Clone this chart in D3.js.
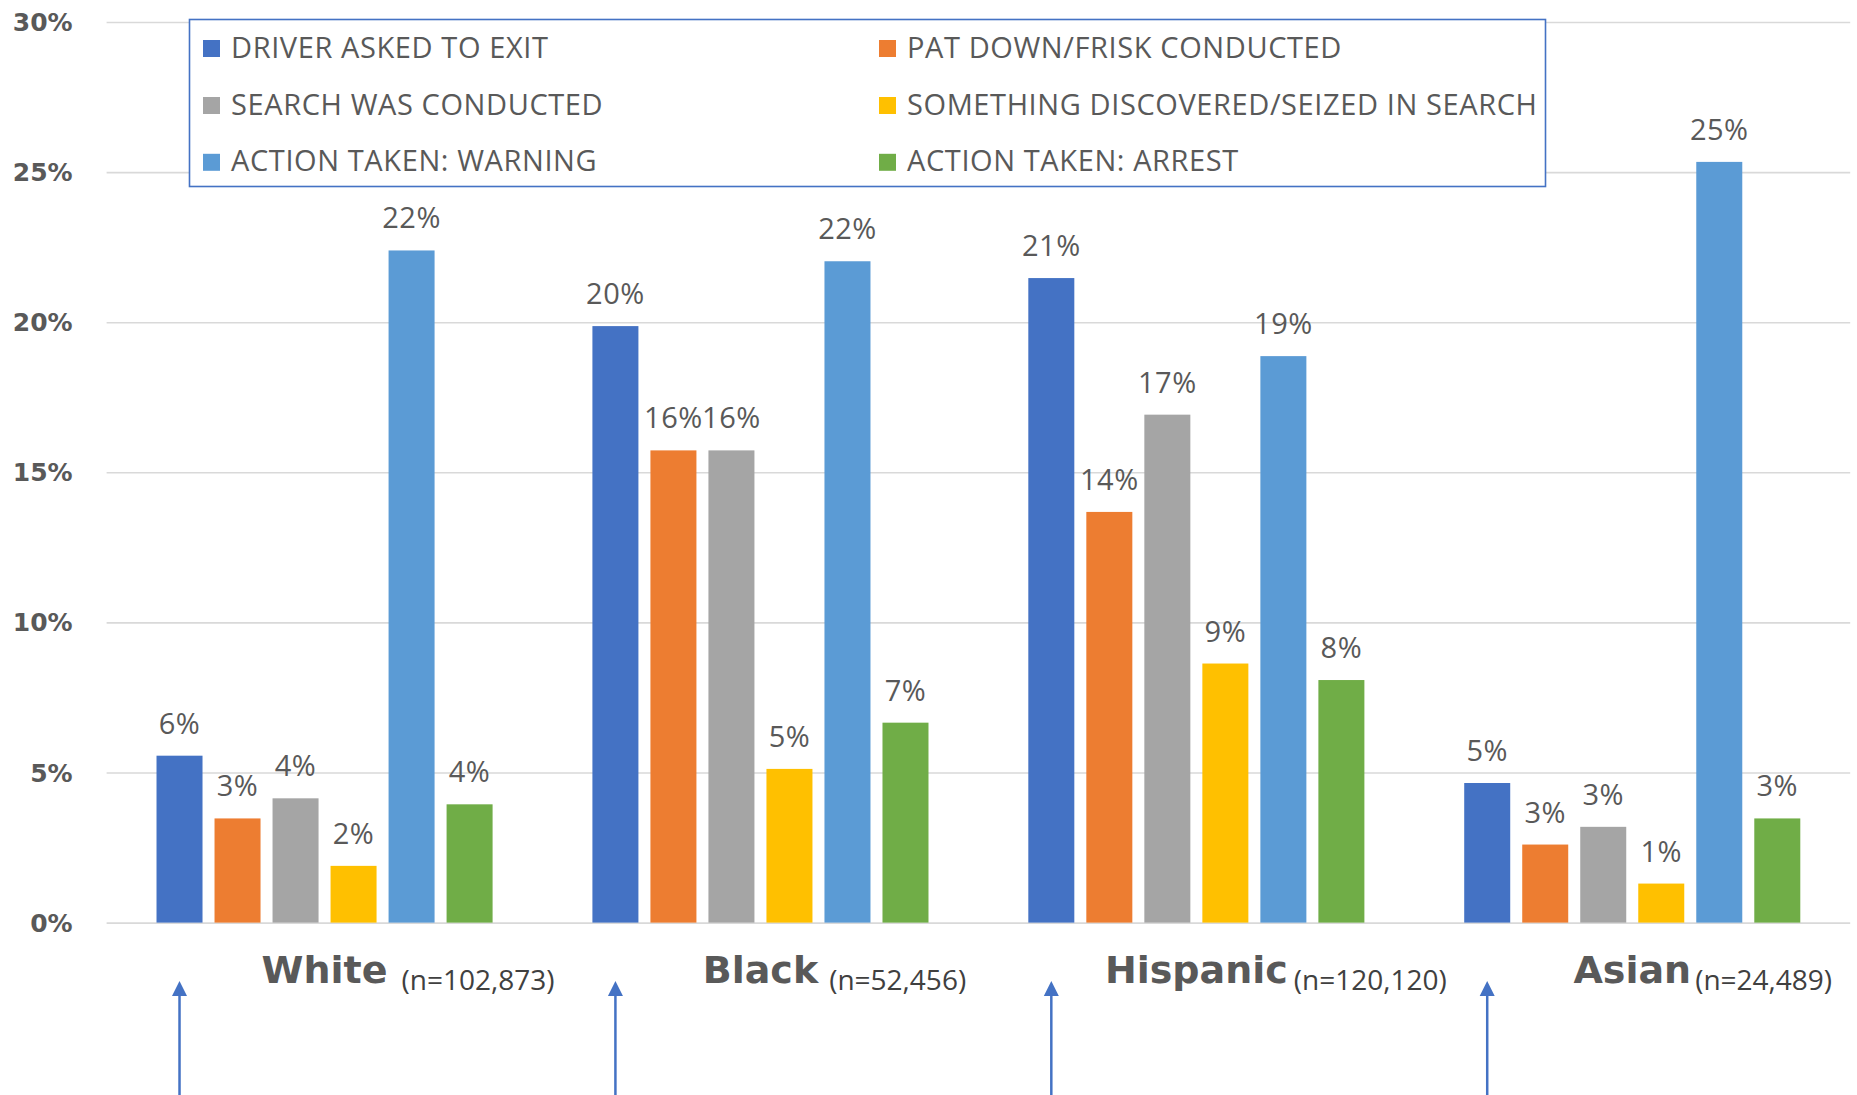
<!DOCTYPE html>
<html>
<head>
<meta charset="utf-8">
<script src="https://cdn.jsdelivr.net/npm/d3@7"></script>
<style>
  body { margin: 0; background: #ffffff; }
  svg { display: block; }
</style>
</head>
<body>
<svg id="chart" width="1857" height="1095"></svg>
<script>
// Groups along the x axis and their sample sizes
const categories = ["White", "Black", "Hispanic", "Asian"];
const sampleSizes = ["(n=102,873)", "(n=52,456)", "(n=120,120)", "(n=24,489)"];

// Series (one bar per series in each group)
const seriesNames = [
  "DRIVER ASKED TO EXIT",
  "PAT DOWN/FRISK CONDUCTED",
  "SEARCH WAS CONDUCTED",
  "SOMETHING DISCOVERED/SEIZED IN SEARCH",
  "ACTION TAKEN: WARNING",
  "ACTION TAKEN: ARREST"
];
const seriesColors = ["#4472C4", "#ED7D31", "#A5A5A5", "#FFC000", "#5B9BD5", "#70AD47"];

// Share of stops, per group (White, Black, Hispanic, Asian)
const driverAskedToExit = [0.0556, 0.1987, 0.2147, 0.0465];
const patDownFrisk      = [0.0347, 0.1573, 0.1368, 0.0260];
const searchConducted   = [0.0414, 0.1573, 0.1692, 0.0319];
const somethingSeized   = [0.0189, 0.0512, 0.0863, 0.0130];
const warningGiven      = [0.2239, 0.2203, 0.1887, 0.2534];
const arrestMade        = [0.0394, 0.0666, 0.0808, 0.0347];

const yTicks = [0, 0.05, 0.10, 0.15, 0.20, 0.25, 0.30];

const seriesValues = [driverAskedToExit, patDownFrisk, searchConducted,
                      somethingSeized, warningGiven, arrestMade];

// ---- layout ----
const W = 1857, H = 1095;
const plotLeft = 106.6, plotRight = 1850.2;
const plotTop = 22, plotBottom = 922.6;
const textGray = "#595959";
const labelGaps = [14, 11, 6, 4];

const svg = d3.select("#chart");

const x0 = d3.scaleBand()
  .domain(categories)
  .range([plotLeft, plotRight])
  .paddingInner(0.229)
  .paddingOuter(0.1145);

const x1 = d3.scaleBand()
  .domain(seriesNames)
  .range([0, x0.bandwidth()])
  .paddingInner(0.207)
  .paddingOuter(0);

const y = d3.scaleLinear().domain([0, 0.30]).range([plotBottom, plotTop]);

const color = d3.scaleOrdinal().domain(seriesNames).range(seriesColors);
const pct = d3.format(".0%");

// ---- gridlines + y axis ----
const yAxis = svg.append("g")
  .attr("transform", `translate(${plotLeft},0)`)
  .call(d3.axisLeft(y)
    .tickValues(yTicks)
    .tickSize(-(plotRight - plotLeft))
    .tickPadding(34)
    .tickFormat(pct));
yAxis.select(".domain").remove();
yAxis.selectAll(".tick line")
  .attr("stroke", "#d9d9d9")
  .attr("stroke-width", 1.6);
yAxis.selectAll(".tick text")
  .attr("fill", textGray)
  .attr("font-family", "'DejaVu Sans', sans-serif")
  .attr("font-weight", "bold")
  .attr("font-size", 25)
  .attr("dy", "0.34em");

// ---- bars ----
const rows = [];
categories.forEach((cat, ci) => {
  seriesNames.forEach((s, si) => {
    rows.push({ cat, series: s, value: seriesValues[si][ci] });
  });
});

const groups = svg.append("g").selectAll("g")
  .data(categories)
  .join("g")
  .attr("transform", d => `translate(${x0(d)},0)`);

groups.selectAll("rect")
  .data(cat => rows.filter(r => r.cat === cat))
  .join("rect")
  .attr("x", d => x1(d.series))
  .attr("y", d => y(d.value))
  .attr("width", x1.bandwidth())
  .attr("height", d => y(0) - y(d.value))
  .attr("fill", d => color(d.series));

groups.selectAll("text.value")
  .data(cat => rows.filter(r => r.cat === cat))
  .join("text")
  .attr("class", "value")
  .attr("x", d => x1(d.series) + x1.bandwidth() / 2)
  .attr("y", d => y(d.value) - 22)
  .attr("text-anchor", "middle")
  .attr("font-family", "'Open Sans', sans-serif")
  .attr("font-size", 29)
  .attr("letter-spacing", 0.5)
  .attr("fill", textGray)
  .text(d => pct(d.value));

// ---- category labels ----
categories.forEach((cat, ci) => {
  const cx = x0(cat) + x0.bandwidth() / 2;
  const main = svg.append("text")
    .attr("x", cx)
    .attr("y", 983)
    .attr("text-anchor", "middle")
    .attr("font-family", "'DejaVu Sans', sans-serif")
    .attr("font-weight", "bold")
    .attr("font-size", 38)
    .attr("fill", textGray)
    .text(cat);
  const w = main.node().getComputedTextLength();
  svg.append("text")
    .attr("x", cx + w / 2 + labelGaps[ci])
    .attr("y", 990)
    .attr("font-family", "'Open Sans', sans-serif")
    .attr("font-size", 28)
    .attr("fill", "#404040")
    .text(sampleSizes[ci]);
});

// ---- arrows under the first bar of each group ----
const arrowColor = "#4472C4";
categories.forEach(cat => {
  const ax = x0(cat) + x1(seriesNames[0]) + x1.bandwidth() / 2;
  svg.append("line")
    .attr("x1", ax).attr("x2", ax)
    .attr("y1", H).attr("y2", 994)
    .attr("stroke", arrowColor)
    .attr("stroke-width", 2.5);
  svg.append("path")
    .attr("d", `M${ax},981 L${ax - 7.5},996 L${ax + 7.5},996 Z`)
    .attr("fill", arrowColor);
});

// ---- legend ----
const legend = svg.append("g");
legend.append("rect")
  .attr("x", 189.5).attr("y", 19.5)
  .attr("width", 1356).attr("height", 167)
  .attr("fill", "#ffffff")
  .attr("stroke", "#4472C4")
  .attr("stroke-width", 1.6);

const colX = [203, 879];
const rowY = [57.5, 114.5, 171.3];
seriesNames.forEach((s, i) => {
  const lx = colX[i % 2];
  const ly = rowY[Math.floor(i / 2)];
  legend.append("rect")
    .attr("x", lx).attr("y", ly - 17.5)
    .attr("width", 17).attr("height", 17)
    .attr("fill", color(s));
  legend.append("text")
    .attr("x", lx + 28).attr("y", ly)
    .attr("font-family", "'Open Sans', sans-serif")
    .attr("font-size", 29)
    .attr("letter-spacing", 0.6)
    .attr("fill", textGray)
    .text(s);
});
</script>
</body>
</html>
